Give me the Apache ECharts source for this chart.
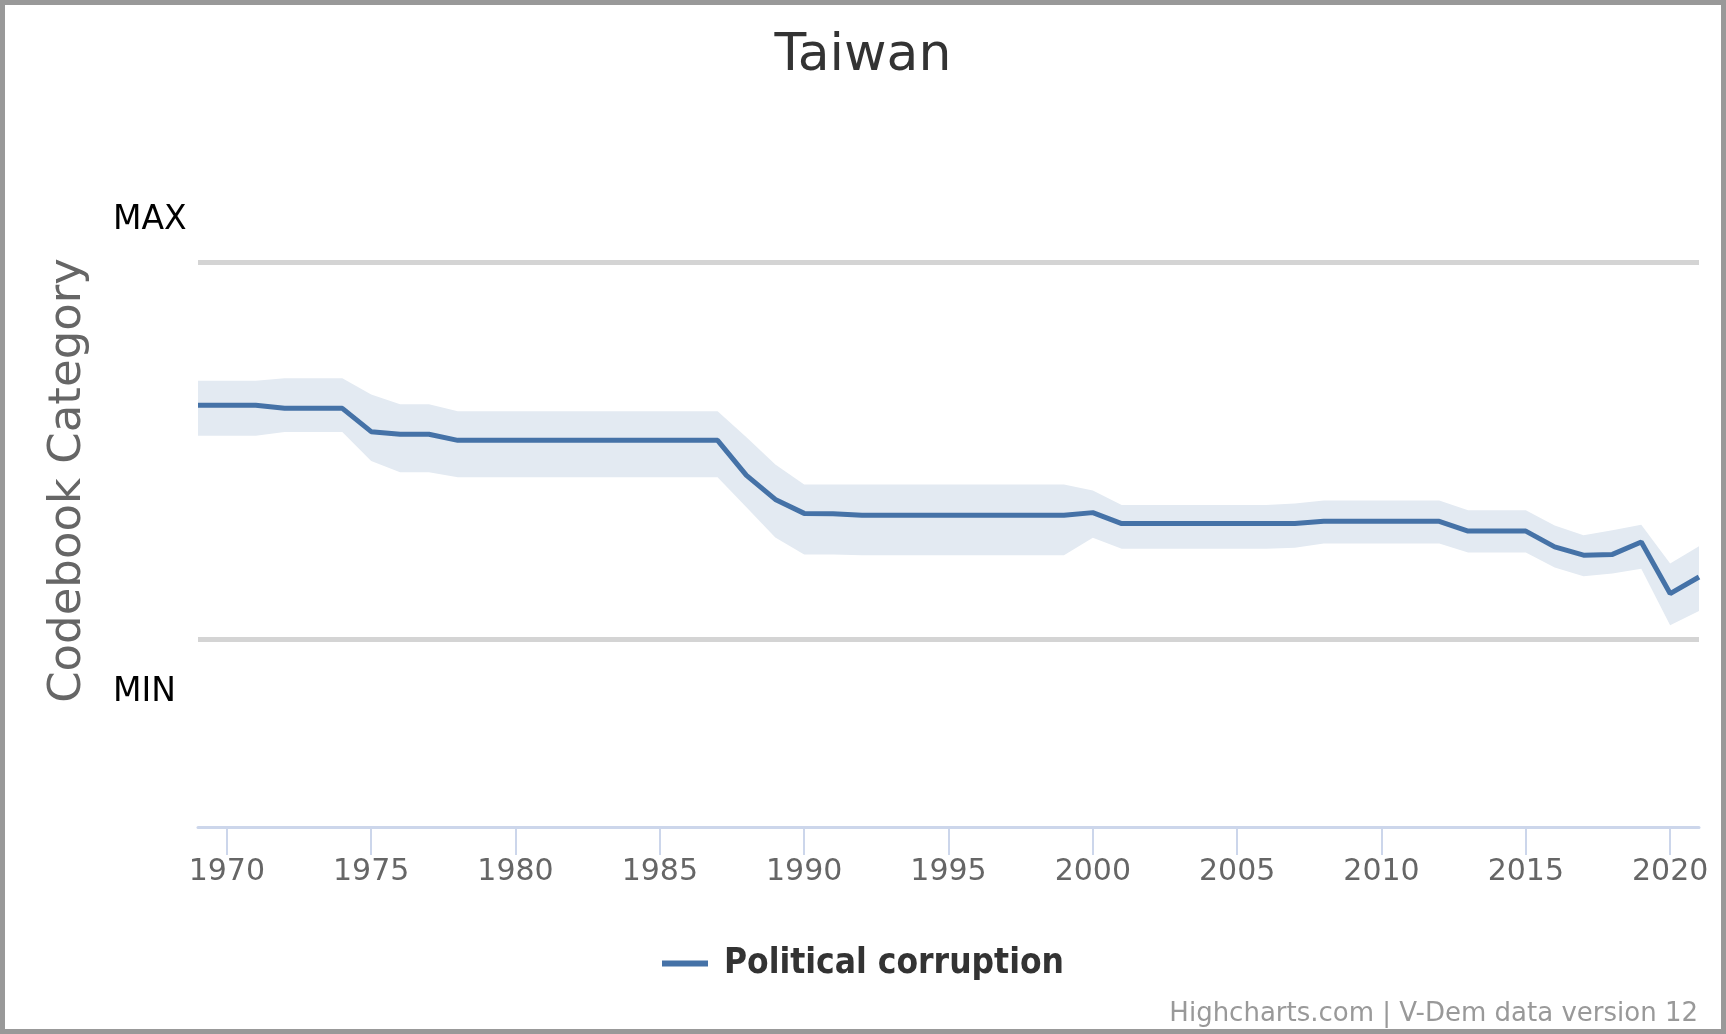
<!DOCTYPE html>
<html>
<head>
<meta charset="utf-8">
<script src="https://cdn.jsdelivr.net/npm/echarts@6/dist/echarts.min.js"></script>
<style>
html,body{margin:0;padding:0;background:#fff;}
#chart{position:absolute;left:0;top:0;width:1726px;height:1034px;box-sizing:border-box;border:5px solid #999;background:#fff;}
</style>
</head>
<body>
<div id="chart"></div>
<script>
// ---- data ----
const years = [];
for (let y = 1969; y <= 2021; y++) years.push(String(y));

const corruption = [
  0.620, 0.620, 0.620,               // 1969-1971
  0.612, 0.612, 0.612,               // 1972-1974
  0.550, 0.543, 0.543,               // 1975-1977
  0.527, 0.527, 0.527, 0.527, 0.527, 0.527, 0.527, 0.527, 0.527, 0.527, // 1978-1987
  0.434, 0.370, 0.333, 0.332,        // 1988-1991
  0.328, 0.328, 0.328, 0.328, 0.328, 0.328, 0.328, 0.328, // 1992-1999
  0.335,                             // 2000
  0.306, 0.306, 0.306, 0.306, 0.306, 0.306, 0.306, // 2001-2007
  0.312, 0.312, 0.312, 0.312, 0.312, // 2008-2012
  0.286, 0.286, 0.286,               // 2013-2015
  0.244, 0.222, 0.224, 0.257,        // 2016-2019
  0.120, 0.164                       // 2020-2021
];
const upper = [
  0.685, 0.685, 0.685,
  0.692, 0.692, 0.692,
  0.649, 0.623, 0.623,
  0.604, 0.604, 0.604, 0.604, 0.604, 0.604, 0.604, 0.604, 0.604, 0.604,
  0.535, 0.463, 0.410, 0.410,
  0.410, 0.410, 0.410, 0.410, 0.410, 0.410, 0.410, 0.410,
  0.394,
  0.355, 0.355, 0.355, 0.355, 0.355, 0.355, 0.359,
  0.367, 0.367, 0.367, 0.367, 0.367,
  0.341, 0.341, 0.341,
  0.301, 0.275, 0.288, 0.303,
  0.200, 0.246
];
const lower = [
  0.539, 0.539, 0.539,
  0.549, 0.549, 0.549,
  0.472, 0.442, 0.442,
  0.429, 0.429, 0.429, 0.429, 0.429, 0.429, 0.429, 0.429, 0.429, 0.429,
  0.349, 0.269, 0.224, 0.224,
  0.222, 0.222, 0.222, 0.222, 0.222, 0.222, 0.222, 0.222,
  0.268,
  0.239, 0.239, 0.239, 0.239, 0.239, 0.239, 0.242,
  0.253, 0.253, 0.253, 0.253, 0.253,
  0.229, 0.229, 0.229,
  0.189, 0.166, 0.173, 0.186,
  0.036, 0.074
];
const yLabels = { max: 'MAX', min: 'MIN' };
const titleText = 'Taiwan';
const seriesName = 'Political corruption';
const axisName = 'Codebook Category';
const creditsText = 'Highcharts.com | V-Dem data version 12';

// ---- chart ----
const bandWidth = upper.map((u, i) => +(u - lower[i]).toFixed(3));
const FONT = '"DejaVu Sans", Verdana, sans-serif';

const chart = echarts.init(document.getElementById('chart'), null, { renderer: 'canvas' });
chart.setOption({
  animation: false,
  backgroundColor: '#fff',
  title: [
    { text: titleText, left: 'center', top: 20,
      textStyle: { fontFamily: FONT, fontSize: 52, fontWeight: 'normal', color: '#333' } },
    { text: creditsText, right: 18, top: 991,
      textStyle: { fontFamily: FONT, fontSize: 26, fontWeight: 'normal', color: '#999' } }
  ],
  legend: {
    data: [seriesName],
    left: 'center', top: 936,
    icon: 'rect', itemWidth: 46, itemHeight: 6,
    textStyle: { fontFamily: '"DejaVu Sans Condensed", "DejaVu Sans", sans-serif', fontSize: 35,
      fontWeight: 'bold', color: '#333', padding: [0, 0, 0, 11] }
  },
  grid: { left: 193, right: 22, top: 69, bottom: 202 },
  xAxis: {
    type: 'category', data: years, boundaryGap: false,
    axisLine: { show: true, onZero: false, lineStyle: { color: '#ccd6eb', width: 3 } },
    axisTick: { show: true, length: 28, interval: (i, v) => Number(v) % 5 === 0,
      lineStyle: { color: '#ccd6eb', width: 2 } },
    axisLabel: { interval: (i, v) => Number(v) % 5 === 0, color: '#666',
      fontFamily: FONT, fontSize: 30, margin: 30 },
    splitLine: { show: false }
  },
  yAxis: {
    type: 'value', min: -0.5, max: 1.5, interval: 0.5,
    name: axisName, nameLocation: 'middle', nameGap: 107,
    nameTextStyle: { fontFamily: FONT, fontSize: 45, color: '#666', padding: [0, 60, 0, 0] },
    axisLine: { show: false }, axisTick: { show: false }, splitLine: { show: false },
    axisLabel: {
      align: 'left', margin: 85,
      formatter: v => v === 1 ? '{mx|' + yLabels.max + '}' : (v === 0 ? '{mn|' + yLabels.min + '}' : ''),
      rich: {
        mx: { fontFamily: FONT, fontSize: 33, color: '#000', padding: [0, 0, 84, 0] },
        mn: { fontFamily: FONT, fontSize: 33, color: '#000', padding: [107, 0, 0, 0] }
      }
    }
  },
  series: [
    { name: 'lowerBase', type: 'line', data: lower, stack: 'band', symbol: 'none',
      lineStyle: { opacity: 0 }, silent: true, z: 1 },
    { name: 'band', type: 'line', data: bandWidth, stack: 'band', symbol: 'none',
      lineStyle: { opacity: 0 }, areaStyle: { color: '#e3eaf2', opacity: 1 }, silent: true, z: 1 },
    { name: seriesName, type: 'line', data: corruption, symbol: 'none', z: 3,
      color: '#4572a7', lineStyle: { color: '#4572a7', width: 5 },
      markLine: { silent: true, symbol: 'none', label: { show: false },
        lineStyle: { color: '#d4d4d4', width: 5, type: 'solid' },
        data: [{ yAxis: 1 }, { yAxis: 0 }] } }
  ]
});
</script>
</body>
</html>
